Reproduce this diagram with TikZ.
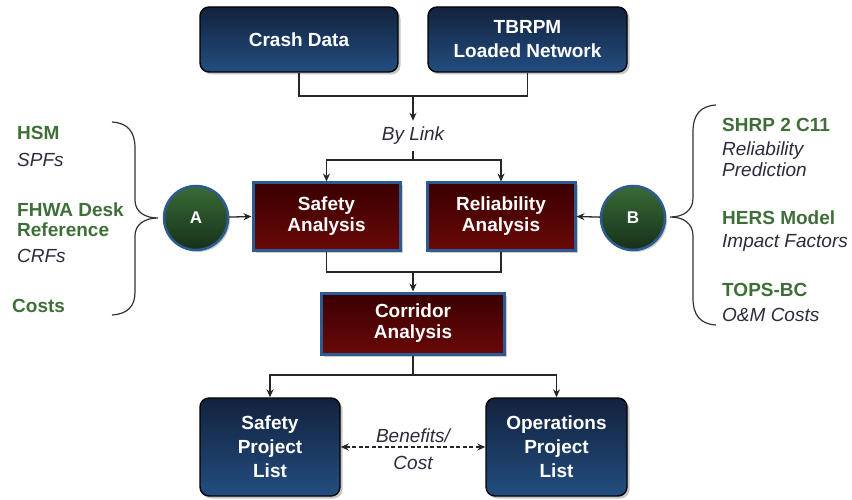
\documentclass[tikz,border=0pt]{standalone}
\usepackage{fontspec}
\setmainfont{Liberation Sans}
\usetikzlibrary{arrows.meta,shadows,calc}
\definecolor{navyT}{HTML}{12223D}
\definecolor{navyB}{HTML}{234D80}
\definecolor{redT}{HTML}{3A0000}
\definecolor{redB}{HTML}{6A0808}
\definecolor{bordB}{HTML}{2D5A90}
\definecolor{grnT}{HTML}{3A6B35}
\definecolor{grnB}{HTML}{15301A}
\definecolor{lblG}{HTML}{3F6F38}
\definecolor{lblD}{HTML}{2B2B3B}
\tikzset{
  navybox/.style={draw=black, line width=1.4pt, rounded corners=9pt, top color=navyT, bottom color=navyB,
    text=white, font=\bfseries\fontsize{19}{24}\selectfont, align=center,
    drop shadow={shadow xshift=2.5pt, shadow yshift=-2.5pt, opacity=0.45}},
  redbox/.style={draw=bordB, line width=3pt, top color=redT, bottom color=redB,
    text=white, font=\bfseries\fontsize{19}{21}\selectfont, align=center,
    drop shadow={shadow xshift=2.5pt, shadow yshift=-2.5pt, opacity=0.4}},
  ball/.style={circle, draw=bordB, line width=2.5pt, minimum size=64pt, top color=grnT, bottom color=grnB,
    text=white, font=\bfseries\fontsize{17}{20}\selectfont,
    drop shadow={shadow xshift=2pt, shadow yshift=-2pt, opacity=0.4}},
  glbl/.style={anchor=west, text=lblG, font=\bfseries\fontsize{19}{20}\selectfont, align=left, inner sep=0pt},
  ilbl/.style={anchor=west, text=lblD, font=\itshape\fontsize{19}{21}\selectfont, align=left, inner sep=0pt},
  conn/.style={draw=black!85, line width=1.3pt},
  arr/.style={conn, -{Stealth[length=8pt,width=7pt]}},
  brace/.style={draw=black!80, line width=1.2pt},
}
\begin{document}
\begin{tikzpicture}[x=1pt,y=-1pt]
\useasboundingbox (0,0) rectangle (852,500);
% top boxes
\node[navybox, minimum width=198pt, minimum height=65pt] (crash) at (299,39.5) {Crash Data};
\node[navybox, minimum width=199pt, minimum height=65pt] (tbrpm) at (527.5,39.5) {TBRPM\\Loaded Network};
\coordinate (j1) at (413,96);
\draw[conn] (crash.south) |- (j1) -| (tbrpm.south);
\node[text=lblD, font=\itshape\fontsize{19}{21}\selectfont, inner sep=0pt, minimum height=22pt] (bylink) at (413,136) {By Link};
\draw[arr] (j1) -- ([yshift=4pt]bylink.north);
% analysis boxes
\node[redbox, minimum width=147pt, minimum height=67pt] (safety) at (326.5,216.5) {Safety\\Analysis};
\node[redbox, minimum width=148pt, minimum height=67pt] (rel) at (501,216.5) {Reliability\\Analysis};
\coordinate (j2) at (413,160);
\draw[conn] ([yshift=-4pt]bylink.south) -- (j2);
\draw[arr] (j2) -| (safety.north);
\draw[arr] (j2) -| (rel.north);
% circles
\node[ball] (A) at (196,218) {A};
\node[ball] (B) at (633,218) {B};
\draw[arr] (A) -- (safety.west);
\draw[arr] (B) -- (rel.east);
% corridor
\node[redbox, minimum width=183pt, minimum height=61pt] (corr) at (413,323.5) {Corridor\\Analysis};
\coordinate (j3) at (413,272);
\draw[conn] (safety.south) |- (j3);
\draw[conn] (rel.south) |- (j3);
\draw[arr] (j3) -- (corr.north);
% project lists
\node[navybox, minimum width=140pt, minimum height=98pt] (slist) at (270,447) {Safety\\Project\\List};
\node[navybox, minimum width=141pt, minimum height=98pt] (olist) at (556.5,447) {Operations\\Project\\List};
\coordinate (j4) at (413,375);
\draw[conn] (corr.south) -- (j4);
\draw[arr] (j4) -| (slist.north);
\draw[arr] (j4) -| (olist.north);
\draw[conn, dash pattern=on 4pt off 2.5pt, {Stealth[length=8pt,width=7pt]}-{Stealth[length=8pt,width=7pt]}] (slist.east) -- (olist.west);
\node[text=lblD, font=\itshape\fontsize{19}{21}\selectfont, inner sep=0pt] (bc1) at (413,436) {Benefits/};
\node[text=lblD, font=\itshape\fontsize{19}{21}\selectfont, inner sep=0pt] (bc2) at (413,463) {Cost};
% left braces and labels
\draw[brace] (112,122) .. controls (128,123) and (135,132) .. (135,148) -- (135,200)
  .. controls (135,212) and (145,218) .. (158,218)
  .. controls (145,218) and (135,224) .. (135,236) -- (135,292)
  .. controls (135,306) and (128,314) .. (112,315);
\node[glbl] (hsm) at (17,133) {HSM};
\node[ilbl] (spf) at (17,160) {SPFs};
\node[glbl] (fhwa) at (17,220) {FHWA Desk\\Reference};
\node[ilbl] (crf) at (17,256) {CRFs};
\node[glbl] (costs) at (12,306) {Costs};
% right braces and labels
\draw[brace] (716,105) .. controls (700,106) and (693,115) .. (693,132) -- (693,198)
  .. controls (693,211) and (683,217) .. (670,217)
  .. controls (683,217) and (693,223) .. (693,236) -- (693,298)
  .. controls (693,315) and (700,324) .. (716,325);
\node[glbl] (shrp) at (722,125) {SHRP 2 C11};
\node[ilbl] (relp) at (722,159.5) {Reliability\\Prediction};
\node[glbl] (hers) at (722,218) {HERS Model};
\node[ilbl] (imp) at (722,243) {Impact Factors};
\node[glbl] (tops) at (722,290) {TOPS-BC};
\node[ilbl] (om) at (722,315) {O\&M Costs};
\end{tikzpicture}
\end{document}
